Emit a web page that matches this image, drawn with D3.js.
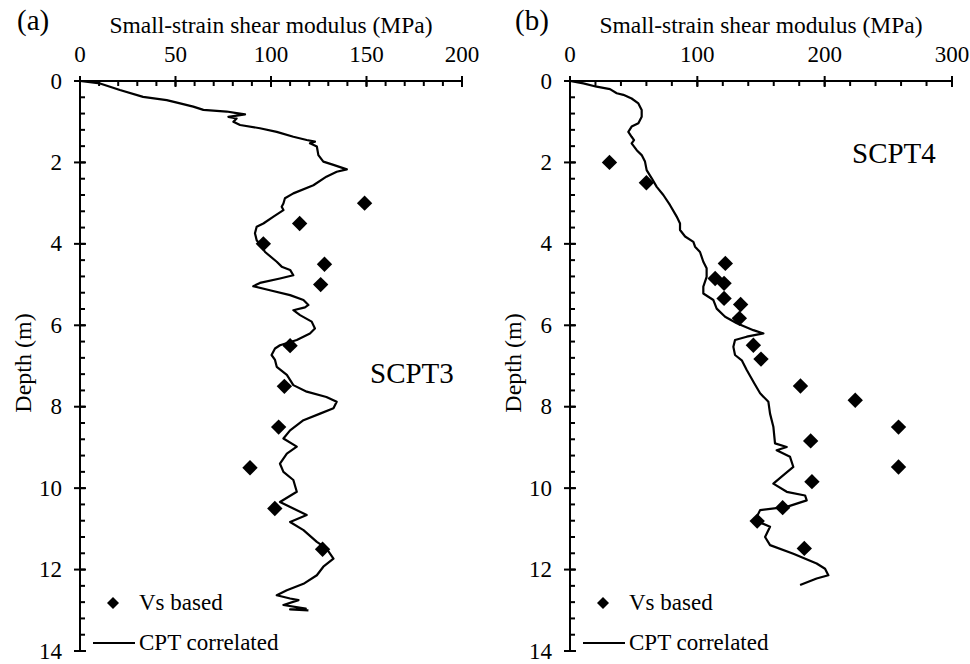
<!DOCTYPE html>
<html>
<head>
<meta charset="utf-8">
<script src="https://cdn.jsdelivr.net/npm/d3@7/dist/d3.min.js"></script>
<style>
  html, body { margin: 0; padding: 0; background: #fff; }
  svg { display: block; }
</style>
</head>
<body>
<svg id="chart" width="970" height="664"></svg>
<script>
// SCPT3: shear-wave velocity based points (G0 in MPa, depth in m)
const scpt3VsG0 = [149, 115, 96, 128, 126, 110, 107, 104, 89, 102, 127];
const scpt3VsDepth = [3.0, 3.5, 4.0, 4.5, 5.0, 6.5, 7.5, 8.5, 9.5, 10.5, 11.5];

// SCPT3: CPT-correlated profile
const scpt3CptG0 = [0, 10.5, 20.9, 33, 45.4, 52.4, 59.3, 64.6, 76.8, 82, 86.4, 77.7, 82, 80.3, 83.8, 94.2, 103, 111.7, 118.7, 123, 120.4, 124, 124.8, 127.4, 132.7, 139.7, 134.4, 129, 122.2, 111.7, 107.3, 106.5, 105.6, 106.5, 101.3, 96, 92.5, 91.6, 92.5, 95.2, 96.9, 103, 105.6, 110, 111.7, 104.7, 94.2, 90.7, 99.4, 110, 117, 119.6, 117.8, 111.7, 115.2, 121.3, 123, 120.4, 113.5, 104.7, 102.1, 100.3, 102.1, 103, 108.3, 111.7, 118.7, 129, 134.4, 132.7, 125.7, 117, 110, 106.5, 113.5, 108.3, 104.7, 106.5, 111.7, 113.5, 104.7, 111.7, 118.7, 110, 117, 124, 129, 132.7, 127.4, 124, 117, 108.3, 103, 110, 114.4, 106.5, 118.2, 110, 119.6];
const scpt3CptDepth = [0, 0.06, 0.22, 0.39, 0.47, 0.55, 0.63, 0.71, 0.75, 0.79, 0.82, 0.88, 0.92, 1.0, 1.08, 1.16, 1.25, 1.37, 1.45, 1.49, 1.53, 1.61, 1.82, 1.98, 2.06, 2.17, 2.23, 2.35, 2.56, 2.76, 2.88, 3.01, 3.09, 3.17, 3.33, 3.5, 3.58, 3.74, 3.91, 4.07, 4.2, 4.44, 4.56, 4.64, 4.77, 4.85, 4.96, 5.04, 5.14, 5.26, 5.38, 5.5, 5.56, 5.63, 5.75, 5.91, 6.08, 6.2, 6.36, 6.49, 6.57, 6.73, 6.85, 7.02, 7.22, 7.47, 7.63, 7.76, 7.88, 8.04, 8.17, 8.33, 8.58, 8.78, 8.98, 9.15, 9.4, 9.6, 9.8, 10.09, 10.34, 10.5, 10.66, 10.83, 11.03, 11.32, 11.48, 11.73, 11.93, 12.14, 12.35, 12.51, 12.63, 12.71, 12.75, 12.87, 12.96, 12.98, 13.0];

// SCPT4: shear-wave velocity based points
const scpt4VsG0 = [31, 60, 122, 114, 121, 121, 134, 133, 144, 150, 181, 224, 258, 189, 258, 190, 167, 147, 184];
const scpt4VsDepth = [2.0, 2.5, 4.48, 4.85, 4.97, 5.34, 5.49, 5.83, 6.49, 6.83, 7.49, 7.84, 8.5, 8.84, 9.48, 9.84, 10.48, 10.81, 11.48];

// SCPT4: CPT-correlated profile
const scpt4CptG0 = [0, 10.5, 20.9, 31.4, 36.7, 41.9, 48.4, 53.7, 56.3, 56.3, 53.7, 48.4, 45.8, 48.4, 50.3, 48.4, 52.4, 56.3, 58.9, 60.2, 64.2, 68.1, 73.3, 78.6, 83.8, 86.4, 86.4, 90.4, 96.9, 98.2, 102.1, 104.7, 107.3, 107.3, 104.7, 104.7, 112.6, 115.2, 121.8, 131, 144, 151.9, 138.8, 129.6, 128.3, 129.6, 134.9, 137.5, 138.8, 144.8, 149.3, 155.8, 157.1, 159.7, 161, 170.2, 162.3, 172.8, 175.4, 167.6, 159.7, 170.2, 184.6, 185.9, 170.2, 149.3, 145.4, 157.1, 153.2, 157.1, 175.4, 193.7, 200.3, 202.9, 193.7, 180.7];
const scpt4CptDepth = [0, 0.06, 0.14, 0.2, 0.3, 0.34, 0.43, 0.55, 0.71, 0.88, 1.04, 1.12, 1.25, 1.37, 1.45, 1.53, 1.7, 1.82, 1.98, 2.19, 2.39, 2.6, 2.8, 3.05, 3.33, 3.5, 3.66, 3.82, 3.95, 4.07, 4.2, 4.44, 4.6, 4.81, 5.05, 5.22, 5.38, 5.59, 5.79, 5.95, 6.12, 6.2, 6.28, 6.36, 6.53, 6.73, 6.86, 7.02, 7.1, 7.43, 7.67, 7.88, 8.17, 8.49, 8.9, 8.99, 9.07, 9.23, 9.48, 9.68, 9.89, 10.09, 10.18, 10.3, 10.46, 10.54, 10.79, 10.95, 11.2, 11.4, 11.61, 11.85, 11.98, 12.14, 12.22, 12.38];

// Axis tick values
const depthTicks = [0, 2, 4, 6, 8, 10, 12, 14];
const g0TicksA = [0, 50, 100, 150, 200];
const g0TicksB = [0, 100, 200, 300];

const FONT = "'Liberation Serif', 'Times New Roman', serif";
const svg = d3.select("#chart");

function zip(a, b) { return a.map((v, i) => [v, b[i]]); }

function label(g, x, y, size, txt, anchor) {
  return g.append("text").attr("x", x).attr("y", y)
    .attr("font-family", FONT).attr("font-size", size)
    .attr("text-anchor", anchor || "start").attr("fill", "#000").text(txt);
}

function drawPanel(opt) {
  const g = svg.append("g");
  const x = d3.scaleLinear().domain(opt.xDomain).range([opt.left, opt.right]);
  const y = d3.scaleLinear().domain([0, 14]).range([opt.top, opt.bottom]);

  // minor ticks (inside the plot)
  const xMinor = d3.range(opt.xDomain[0], opt.xDomain[1] + 1e-9, opt.xMinorStep);
  const yMinor = d3.range(0, 14 + 1e-9, 0.4);
  g.selectAll(".xminor").data(xMinor).join("line")
    .attr("x1", d => x(d)).attr("x2", d => x(d))
    .attr("y1", opt.top).attr("y2", opt.top + 5)
    .attr("stroke", "#000").attr("stroke-width", 2);
  g.selectAll(".yminor").data(yMinor).join("line")
    .attr("x1", opt.left).attr("x2", opt.left + 5)
    .attr("y1", d => y(d)).attr("y2", d => y(d))
    .attr("stroke", "#000").attr("stroke-width", 2);

  // major ticks crossing the axis line
  g.selectAll(".xmajor").data(opt.xTicks).join("line")
    .attr("x1", d => x(d)).attr("x2", d => x(d))
    .attr("y1", opt.top - 5).attr("y2", opt.top + 6)
    .attr("stroke", "#000").attr("stroke-width", 2);
  g.selectAll(".ymajor").data(depthTicks).join("line")
    .attr("x1", opt.left - 6).attr("x2", opt.left + 6)
    .attr("y1", d => y(d)).attr("y2", d => y(d))
    .attr("stroke", "#000").attr("stroke-width", 2);

  // axis lines
  g.append("line").attr("x1", opt.left).attr("x2", opt.right)
    .attr("y1", opt.top).attr("y2", opt.top).attr("stroke", "#000").attr("stroke-width", 2);
  g.append("line").attr("x1", opt.left).attr("x2", opt.left)
    .attr("y1", opt.top).attr("y2", opt.bottom).attr("stroke", "#000").attr("stroke-width", 2);

  // tick labels
  opt.xTicks.forEach(d => label(g, x(d), opt.top - 19, 23, d, "middle"));
  depthTicks.forEach(d => label(g, opt.left - 18, y(d) + 7.5, 23, d, "end"));

  // axis titles
  label(g, (opt.left + opt.right) / 2, 33, 23.5, "Small-strain shear modulus (MPa)", "middle");
  g.append("text")
    .attr("transform", `translate(${opt.left - 49},363) rotate(-90)`)
    .attr("font-family", FONT).attr("text-anchor", "middle").attr("font-size", 24)
    .attr("fill", "#000").text("Depth (m)");
  label(g, opt.panelX, 30, 29, opt.panel);

  // CPT-correlated profile
  const line = d3.line().x(d => x(d[0])).y(d => y(d[1]));
  g.append("path").datum(zip(opt.cptG0, opt.cptDepth))
    .attr("d", line).attr("fill", "none").attr("stroke", "#000")
    .attr("stroke-width", 2.2).attr("stroke-linejoin", "round");

  // Vs-based points (diamonds)
  const diamond = d3.symbol().type(d3.symbolSquare).size(118);
  g.selectAll(".vs").data(zip(opt.vsG0, opt.vsDepth)).join("path")
    .attr("transform", d => `translate(${x(d[0])},${y(d[1])}) rotate(45)`)
    .attr("d", diamond).attr("fill", "#000");

  // site label
  label(g, opt.labelX, opt.labelY, 29, opt.site);

  // legend
  const lx = opt.left;
  g.append("path").attr("transform", `translate(${lx + 33},603) rotate(45)`)
    .attr("d", d3.symbol().type(d3.symbolSquare).size(72)).attr("fill", "#000");
  label(g, lx + 59, 610, 23, "Vs based");
  g.append("line").attr("x1", lx + 13).attr("x2", lx + 55)
    .attr("y1", 643).attr("y2", 643).attr("stroke", "#000").attr("stroke-width", 2.2);
  label(g, lx + 59, 650, 23, "CPT correlated");
}

drawPanel({
  panel: "(a)", panelX: 17, site: "SCPT3",
  left: 80, right: 462, top: 81, bottom: 651,
  xDomain: [0, 200], xTicks: g0TicksA, xMinorStep: 10,
  cptG0: scpt3CptG0, cptDepth: scpt3CptDepth,
  vsG0: scpt3VsG0, vsDepth: scpt3VsDepth,
  labelX: 370, labelY: 383
});

drawPanel({
  panel: "(b)", panelX: 515, site: "SCPT4",
  left: 570, right: 952, top: 81, bottom: 651,
  xDomain: [0, 300], xTicks: g0TicksB, xMinorStep: 20,
  cptG0: scpt4CptG0, cptDepth: scpt4CptDepth,
  vsG0: scpt4VsG0, vsDepth: scpt4VsDepth,
  labelX: 852, labelY: 163
});
</script>
</body>
</html>
